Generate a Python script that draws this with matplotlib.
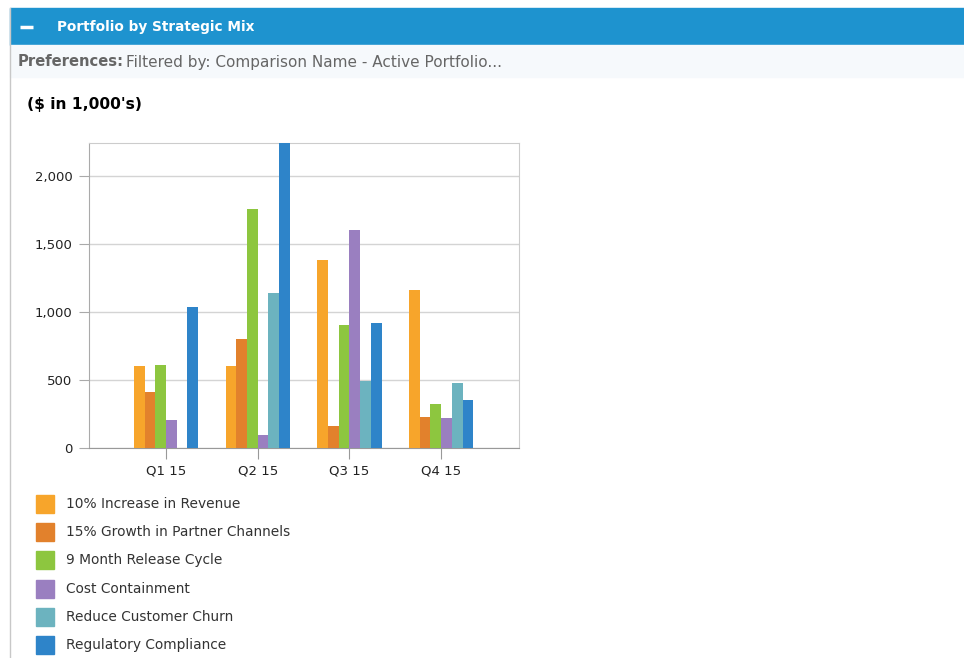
import matplotlib.pyplot as plt
import numpy as np
from matplotlib.patches import Rectangle

plt.rcParams["font.family"] = ["DejaVu Sans"]

# data
quarters = ["Q1 15", "Q2 15", "Q3 15", "Q4 15"]
series_names = ["10% Increase in Revenue", "15% Growth in Partner Channels",
                "9 Month Release Cycle", "Cost Containment",
                "Reduce Customer Churn", "Regulatory Compliance"]
revenue = [600, 600, 1380, 1160]
partner = [410, 800, 165, 228]
release = [612, 1757, 904, 322]
cost = [206, 95, 1600, 218]
churn = [0, 1140, 490, 476]
regulatory = [1037, 2300, 916, 352]
colors = ["#f7a52b", "#e2812c", "#8dc63f", "#9a7fc0", "#6cb3bf", "#2e84c9"]

W, H = 964, 658
fig = plt.figure(figsize=(W / 100, H / 100), dpi=100)

# header panel, drawn in pixel coords
ov = fig.add_axes([0, 0, 1, 1])
ov.set_xlim(0, W)
ov.set_ylim(H, 0)
ov.axis("off")
ov.add_patch(Rectangle((10, 8), W - 10, 37, color="#1e93cf"))
ov.add_patch(Rectangle((10, 45), W - 10, 32, color="#f6f9fc"))
ov.plot([10, 10], [8, H], color="#c8c8c8", lw=1)
ov.plot([20, 33], [27, 27], color="white", lw=2.5, solid_capstyle="butt")
ov.text(57, 27, "Portfolio by Strategic Mix", color="white", fontsize=9.85,
        fontweight="bold", va="center")
ov.text(18, 62, "Preferences:", color="#666666", fontsize=10.6,
        fontweight="bold", va="center")
ov.text(126, 62, "Filtered by: Comparison Name - Active Portfolio...",
        color="#666666", fontsize=10.95, va="center")
ov.text(27, 104, "($ in 1,000's)", color="black", fontsize=11.2,
        fontweight="bold", va="center")

# chart
ax = fig.add_axes([89 / W, 1 - 448 / H, (519 - 89) / W, (448 - 143) / H])
data = [revenue, partner, release, cost, churn, regulatory]
x = np.arange(len(quarters))
bw = 0.117
for i, vals in enumerate(data):
    ax.bar(x + (i - 2.5) * bw, vals, bw, color=colors[i], zorder=3)

ax.set_xlim(-0.84, 3.85)
ax.set_ylim(0, 2240)
ax.set_yticks([0, 500, 1000, 1500, 2000])
ax.set_yticklabels(["0", "500", "1,000", "1,500", "2,000"])
ax.set_xticks(x)
ax.set_xticklabels(quarters)
ax.yaxis.grid(True, color="#d4d4d4", lw=1, zorder=0)
ax.tick_params(axis="y", length=7, color="#aaaaaa", labelsize=9.5,
               labelcolor="#222222", pad=5)
ax.tick_params(axis="x", length=8, color="#999999", labelsize=9.5,
               labelcolor="#222222", pad=4)
for s in ax.spines.values():
    s.set_color("#cccccc")
ax.spines["bottom"].set_color("#999999")
ax.spines["left"].set_color("#aaaaaa")

# legend
for i, name in enumerate(series_names):
    yc = 504 + i * 28.2
    ov.add_patch(Rectangle((36, yc - 9), 18, 18, color=colors[i]))
    ov.text(66, yc, name, color="#333333", fontsize=9.9, va="center")

fig.savefig("out.png", dpi=100)
